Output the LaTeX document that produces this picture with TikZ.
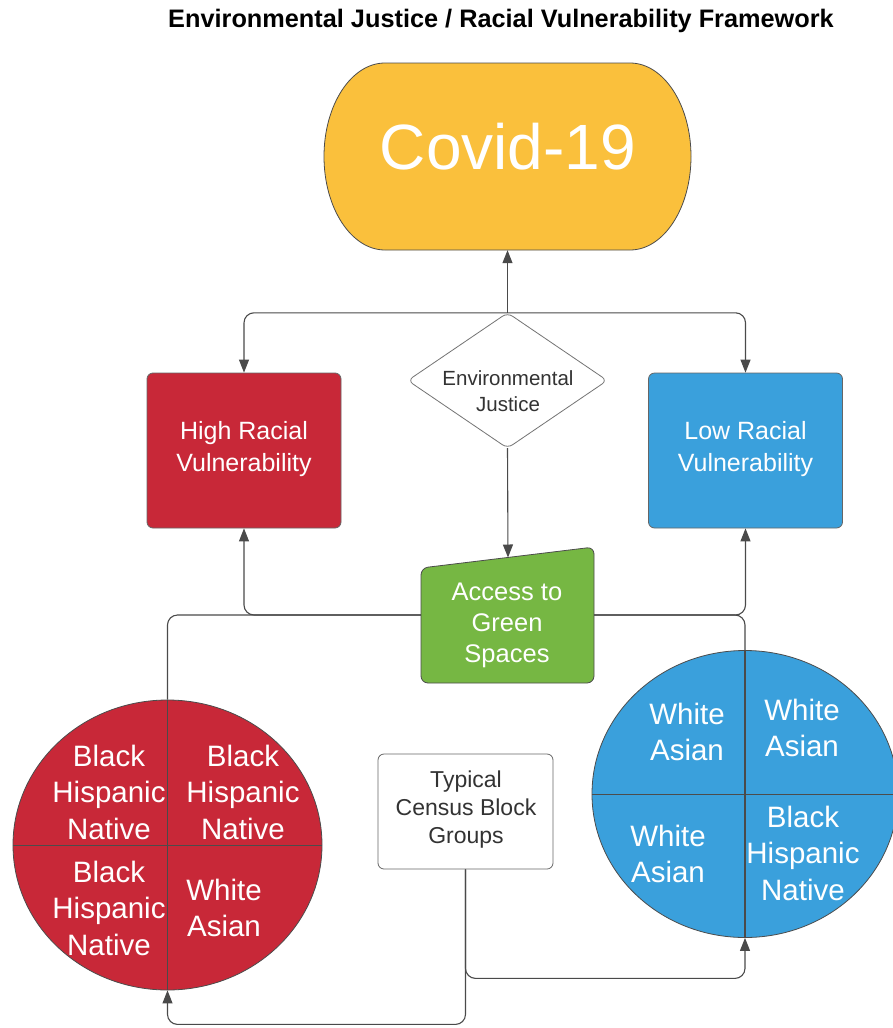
\documentclass[tikz,border=0pt]{standalone}
\usepackage{fontspec}
\setmainfont{Liberation Sans}
\usetikzlibrary{arrows.meta,shapes.geometric}
\definecolor{cyel}{HTML}{FAC03C}
\definecolor{cred}{HTML}{C82838}
\definecolor{cblue}{HTML}{3AA0DC}
\definecolor{cgreen}{HTML}{76B743}
\definecolor{cline}{HTML}{4A4A4A}
\definecolor{ctext}{HTML}{333333}
\begin{document}
\begin{tikzpicture}[x=1pt,y=-1pt,
  conn/.style={draw=cline,line width=1.1pt,rounded corners=10pt},
  arr/.style={conn,-{Triangle[length=13pt,width=10pt]}},
  edge/.style={draw=black!70,line width=0.8pt},
  wtxt/.style={text=white,align=center,inner sep=0pt},
  dtxt/.style={text=ctext,align=center,inner sep=0pt},
  holder/.style={rectangle,inner sep=0pt},
  quad/.style={wtxt,font=\fontsize{29.5}{36.5}\selectfont},
  boxtxt/.style={wtxt,font=\fontsize{25}{32}\selectfont}]
\useasboundingbox (0,0) rectangle (892,1028);
\fill[white] (0,0) rectangle (892,1028);

% title
\node[font=\bfseries\fontsize{25.3}{28}\selectfont,inner sep=0pt] (title) at (501,21) {Environmental Justice / Racial Vulnerability Framework};

% Covid stadium
\node[holder,minimum width=367pt,minimum height=187pt] (covid) at (507.5,156.5) {};
\draw[edge,fill=cyel] (385,63) -- (630,63) .. controls (663.7,63) and (691,104.9) .. (691,156.5)
  .. controls (691,208.1) and (663.7,250) .. (630,250) -- (385,250)
  .. controls (351.3,250) and (324,208.1) .. (324,156.5)
  .. controls (324,104.9) and (351.3,63) .. (385,63) -- cycle;
\node[wtxt,font=\fontsize{64}{70}\selectfont] (covidtxt) at (508,147) {Covid-19};

% Environmental Justice diamond
\node[holder,minimum width=199pt,minimum height=135pt] (env) at (507.5,380.5) {};
\draw[edge,draw=black!55,fill=white,rounded corners=6pt] (env.north) -- (env.east) -- (env.south) -- (env.west) -- cycle;
\node[dtxt,font=\fontsize{20.5}{26}\selectfont] (envtxt) at (508,391) {Environmental\\Justice};

% High / Low boxes
\node[rectangle,draw=black!60,fill=cred,rounded corners=6pt,minimum width=194pt,minimum height=155pt,line width=0.8pt] (high) at (244,450.5) {};
\node[boxtxt] (hightxt) at (244,449) {High Racial\\Vulnerability};
\node[rectangle,draw=black!60,fill=cblue,rounded corners=6pt,minimum width=194pt,minimum height=155pt,line width=0.8pt] (low) at (745.5,450.5) {};
\node[boxtxt] (lowtxt) at (745.5,449) {Low Racial\\Vulnerability};

% Green spaces
\node[holder,minimum width=173pt,minimum height=136pt] (green) at (507.5,615) {};
\draw[edge,fill=cgreen,rounded corners=7pt] (421,568) -- (594,547) -- (594,683) -- (421,683) -- cycle;
\coordinate (gtop) at (508,557.5);
\node[boxtxt,font=\fontsize{25.5}{31}\selectfont] (greentxt) at (507,625) {Access to\\Green\\Spaces};

% Census box
\node[rectangle,draw=black!60,fill=white,rounded corners=6pt,minimum width=175pt,minimum height=115pt,line width=0.8pt] (census) at (465.5,811.5) {};
\node[dtxt,font=\fontsize{23}{28}\selectfont] (censustxt) at (466,810) {Typical\\Census Block\\Groups};

% circles
\node[ellipse,draw=black!70,line width=0.8pt,fill=cred,minimum width=309pt,minimum height=290pt,inner sep=0pt] (redc) at (167.5,845) {};
\node[ellipse,draw=black!70,line width=0.8pt,fill=cblue,minimum width=306pt,minimum height=287pt,inner sep=0pt] (bluec) at (745,794) {};

\draw[edge] (redc.west) -- (redc.east);
\draw[edge] (bluec.west) -- (bluec.east);

% red quadrants
\node[quad] (r1) at (109,792) {Black\\Hispanic\\Native};
\node[quad] (r2) at (243,792) {Black\\Hispanic\\Native};
\node[quad] (r3) at (109,908) {Black\\Hispanic\\Native};
\node[quad] (r4) at (224,908) {White\\Asian};
% blue quadrants
\node[quad] (b1) at (687,732) {White\\Asian};
\node[quad] (b2) at (802,728) {White\\Asian};
\node[quad] (b3) at (668,854) {White\\Asian};
\node[quad] (b4) at (803,853) {Black\\Hispanic\\Native};

% connectors
\draw[arr] (env.north) -- (covid.south);
\draw[arr] (env.north) -| (high.north);
\draw[arr] (env.north) -| (low.north);
\draw[arr] (env.south) -- (gtop);
\draw[arr] (green.west) -| (high.south);
\draw[conn] (green.west) -| (redc.north);
\draw[conn,rounded corners=0pt] (redc.north) -- (redc.south);
\draw[arr] (green.east) -| (low.south);
\draw[conn] (green.east) -| (bluec.north);
\draw[conn,rounded corners=0pt] (bluec.north) -- (bluec.south);
\draw[arr] (census.south) -- ++(0,109) -| (bluec.south);
\draw[arr] (census.south) -- ++(0,155) -| (redc.south);
\end{tikzpicture}
\end{document}
